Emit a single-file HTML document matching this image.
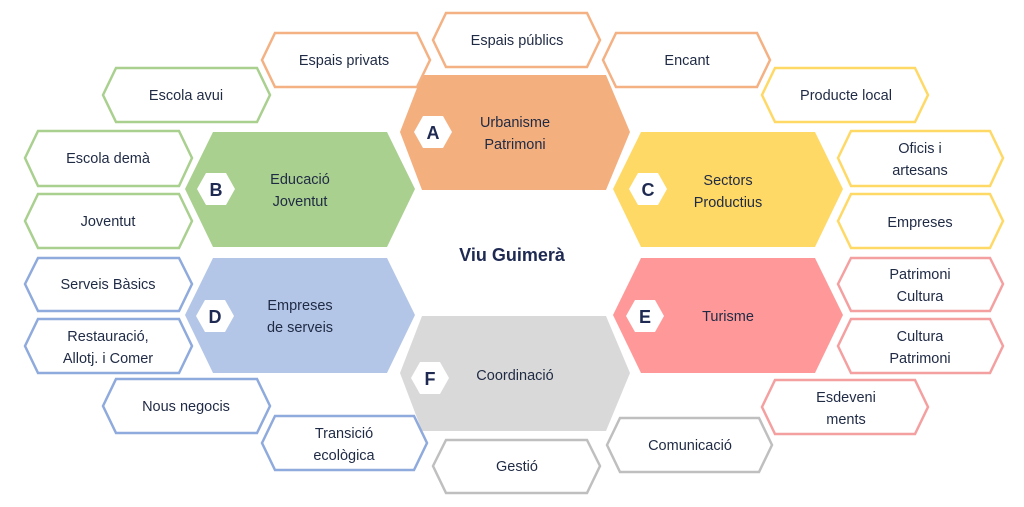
<!DOCTYPE html>
<html><head><meta charset="utf-8"><style>
html,body{margin:0;padding:0;background:#fff;}
svg{display:block;}
text{font-family:"Liberation Sans",sans-serif;font-size:14.5px;fill:#1f2a44;text-anchor:middle;}
.l{font-weight:bold;font-size:18px;fill:#1f2a52;}
.s{fill:#fff;stroke-width:2.5;}
</style></head><body>
<svg width="1024" height="507" viewBox="0 0 1024 507">
<polygon points="400,132 422,75 606,75 630,132 606,190 422,190" fill="#f4af7e"/>
<polygon points="185,189 213,132 387,132 415,189 387,247 213,247" fill="#a9d08e"/>
<polygon points="613,189 641,132 815,132 843,189 815,247 641,247" fill="#ffd966"/>
<polygon points="185,315 213,258 387,258 415,315 387,373 213,373" fill="#b4c6e7"/>
<polygon points="613,315 641,258 815,258 843,315 815,373 641,373" fill="#ff9999"/>
<polygon points="400,373 422,316 606,316 630,373 606,431 422,431" fill="#d9d9d9"/>
<g fill="#fff">
<polygon points="414,132 423,116 443,116 452,132 443,148 423,148"/>
<polygon points="197,189 206,173 226,173 235,189 226,205 206,205"/>
<polygon points="629,189 638,173 658,173 667,189 658,205 638,205"/>
<polygon points="196,316 205,300 225,300 234,316 225,332 205,332"/>
<polygon points="626,316 635,300 655,300 664,316 655,332 635,332"/>
<polygon points="411,378 420,362 440,362 449,378 440,394 420,394"/>
</g>
<text class="l" x="433" y="139">A</text>
<text class="l" x="216" y="196">B</text>
<text class="l" x="648" y="196">C</text>
<text class="l" x="215" y="323">D</text>
<text class="l" x="645" y="323">E</text>
<text class="l" x="430" y="385">F</text>
<text x="515" y="127">Urbanisme</text><text x="515" y="149">Patrimoni</text>
<text x="300" y="184">Educació</text><text x="300" y="206">Joventut</text>
<text x="728" y="185">Sectors</text><text x="728" y="207">Productius</text>
<text x="300" y="310">Empreses</text><text x="300" y="332">de serveis</text>
<text x="728" y="321">Turisme</text>
<text x="515" y="380">Coordinació</text>
<text class="l" x="512" y="261">Viu Guimerà</text>
<polygon class="s" stroke="#f4b183" points="433,40 446,13 587,13 600,40 587,67 446,67"/>
<polygon class="s" stroke="#f4b183" points="262,60 275,33 417,33 430,60 417,87 275,87"/>
<polygon class="s" stroke="#f4b183" points="603,60 616,33 757,33 770,60 757,87 616,87"/>
<polygon class="s" stroke="#a9d08e" points="103,95 116,68 257,68 270,95 257,122 116,122"/>
<polygon class="s" stroke="#ffd966" points="762,95 775,68 915,68 928,95 915,122 775,122"/>
<polygon class="s" stroke="#a9d08e" points="25,158 38,131 179,131 192,158 179,186 38,186"/>
<polygon class="s" stroke="#ffd966" points="838,158 851,131 990,131 1003,158 990,186 851,186"/>
<polygon class="s" stroke="#a9d08e" points="25,221 38,194 179,194 192,221 179,248 38,248"/>
<polygon class="s" stroke="#ffd966" points="838,221 851,194 990,194 1003,221 990,248 851,248"/>
<polygon class="s" stroke="#8faadc" points="25,284 38,258 179,258 192,284 179,311 38,311"/>
<polygon class="s" stroke="#f4a0a0" points="838,284 851,258 990,258 1003,284 990,311 851,311"/>
<polygon class="s" stroke="#8faadc" points="25,346 38,319 179,319 192,346 179,373 38,373"/>
<polygon class="s" stroke="#f4a0a0" points="838,346 851,319 990,319 1003,346 990,373 851,373"/>
<polygon class="s" stroke="#8faadc" points="103,406 116,379 257,379 270,406 257,433 116,433"/>
<polygon class="s" stroke="#f4a0a0" points="762,407 775,380 915,380 928,407 915,434 775,434"/>
<polygon class="s" stroke="#8faadc" points="262,443 275,416 414,416 427,443 414,470 275,470"/>
<polygon class="s" stroke="#bfbfbf" points="607,445 620,418 759,418 772,445 759,472 620,472"/>
<polygon class="s" stroke="#bfbfbf" points="433,466 446,440 587,440 600,466 587,493 446,493"/>
<text x="517" y="45">Espais públics</text>
<text x="344" y="65">Espais privats</text>
<text x="687" y="65">Encant</text>
<text x="186" y="100">Escola avui</text>
<text x="846" y="100">Producte local</text>
<text x="108" y="163">Escola demà</text>
<text x="920" y="153">Oficis i</text><text x="920" y="175">artesans</text>
<text x="108" y="226">Joventut</text>
<text x="920" y="227">Empreses</text>
<text x="108" y="289">Serveis Bàsics</text>
<text x="920" y="279">Patrimoni</text><text x="920" y="301">Cultura</text>
<text x="108" y="341">Restauració,</text><text x="108" y="363">Allotj. i Comer</text>
<text x="920" y="341">Cultura</text><text x="920" y="363">Patrimoni</text>
<text x="186" y="411">Nous negocis</text>
<text x="846" y="402">Esdeveni</text><text x="846" y="424">ments</text>
<text x="344" y="438">Transició</text><text x="344" y="460">ecològica</text>
<text x="690" y="450">Comunicació</text>
<text x="517" y="471">Gestió</text>
</svg>
</body></html>
